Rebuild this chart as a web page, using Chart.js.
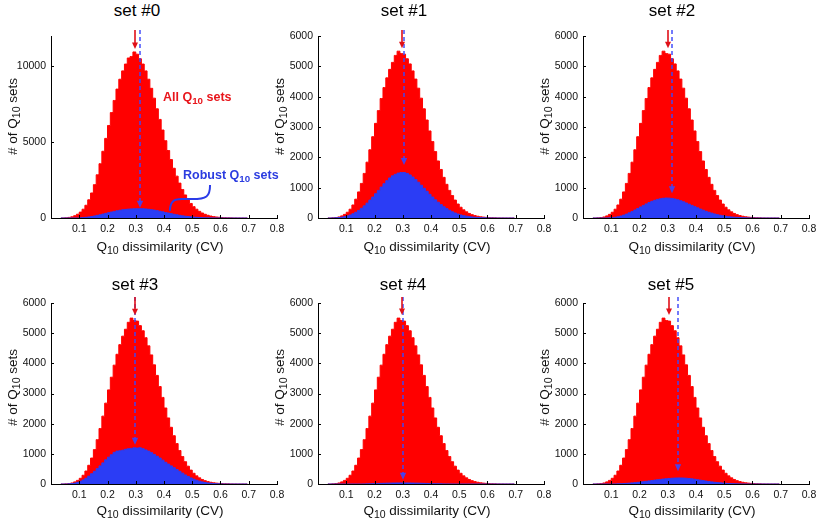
<!DOCTYPE html>
<html>
<head>
<meta charset="utf-8">
<script src="https://cdn.jsdelivr.net/npm/chart.js@4.4.1/dist/chart.umd.min.js"></script>
<style>
  html, body { margin:0; padding:0; background:#fff; }
  body { width:817px; height:525px; position:relative; overflow:hidden; font-family:"Liberation Sans", Arial, sans-serif; }
  .txt { position:absolute; white-space:nowrap; color:#111; }
  .sb { font-size:0.78em; position:relative; top:0.32em; line-height:0; }
</style>
</head>
<body>
<script>
// ---------------- DATA ----------------
const binCenters = [
  0.035,0.045,0.055,0.065,0.075,0.085,0.095,0.105,0.115,0.125,
  0.135,0.145,0.155,0.165,0.175,0.185,0.195,0.205,0.215,0.225,
  0.235,0.245,0.255,0.265,0.275,0.285,0.295,0.305,0.315,0.325,
  0.335,0.345,0.355,0.365,0.375,0.385,0.395,0.405,0.415,0.425,
  0.435,0.445,0.455,0.465,0.475,0.485,0.495,0.505,0.515,0.525,
  0.535,0.545,0.555,0.565,0.575,0.585,0.595,0.605,0.615,0.625,
  0.635,0.645,0.655,0.665,0.675,0.685,0.695
];

// All Q10 sets, set #0
const allSet0 = [
  0,5,15,40,80,150,250,390,580,840,
  1200,1650,2200,2850,3580,4400,5250,6100,6950,7750,
  8500,9150,9700,10150,10550,10650,10950,10800,10500,10150,
  9700,9150,8550,7900,7200,6500,5800,5100,4450,3850,
  3280,2760,2300,1880,1520,1220,960,750,580,440,
  330,245,180,130,95,68,48,33,22,14,
  9,5,3,1,0,0,0
];

// All Q10 sets, sets #1 - #5
const allSets1to5 = [
  0,0,5,15,35,70,120,190,290,430,
  620,860,1140,1470,1840,2250,2680,3120,3540,3940,
  4300,4620,4900,5130,5360,5500,5420,5400,5250,5080,
  4850,4580,4280,3950,3600,3230,2870,2520,2190,1880,
  1600,1340,1110,910,740,590,460,355,270,205,
  150,110,80,58,42,30,21,14,9,6,
  4,2,1,0,0,0,0
];

// Robust Q10 sets
const robust0 = [
  0,0,0,0,0,0,0,10,25,45,
  70,100,135,175,215,260,305,350,395,435,
  475,510,540,565,585,600,610,615,615,610,
  595,575,550,520,485,445,405,365,325,285,
  245,210,175,145,118,95,75,58,44,33,
  24,17,12,8,5,3,2,1,0,0,
  0,0,0,0,0,0,0
];
const robust1 = [
  0,0,3,8,15,28,45,70,100,140,
  190,250,320,400,490,590,690,800,910,1020,
  1130,1230,1320,1390,1440,1480,1500,1500,1470,1420,
  1350,1270,1180,1080,980,880,780,690,600,520,
  440,370,310,255,205,165,130,100,78,60,
  45,33,24,17,12,8,5,3,2,1,
  0,0,0,0,0,0,0
];
const robust2 = [
  0,0,0,0,0,0,5,12,25,42,
  65,95,130,170,215,265,315,365,415,465,
  510,550,585,615,635,650,658,655,645,625,
  600,570,535,495,455,415,375,335,295,258,
  222,190,160,133,110,90,72,57,45,35,
  26,19,14,10,7,4,2,1,0,0,
  0,0,0,0,0,0,0
];
const robust3 = [
  0,0,0,5,15,30,55,90,135,190,
  260,340,420,510,600,700,800,890,970,1050,
  1090,1100,1120,1150,1170,1180,1200,1190,1200,1170,
  1130,1090,1040,980,920,860,790,720,660,600,
  540,480,420,360,300,250,200,160,125,95,
  70,50,35,24,16,10,6,3,1,0,
  0,0,0,0,0,0,0
];
const robust4 = [
  0,0,0,0,0,0,0,0,0,0,
  0,0,0,3,5,8,11,14,18,21,
  24,27,29,31,33,34,35,35,34,33,
  31,29,27,24,21,18,15,12,10,8,
  6,4,3,2,1,0,0,0,0,0,
  0,0,0,0,0,0,0,0,0,0,
  0,0,0,0,0,0,0
];
const robust5 = [
  0,0,0,0,0,0,0,0,3,6,
  10,15,21,28,36,45,55,66,78,90,
  103,116,129,141,153,164,174,183,190,196,
  200,200,197,191,182,170,157,142,127,112,
  97,83,70,58,47,38,30,23,17,13,
  9,6,4,2,1,0,0,0,0,0,
  0,0,0,0,0,0,0
];

const panelTitles = ['set #0','set #1','set #2','set #3','set #4','set #5'];
const xTickValues = [0.1,0.2,0.3,0.4,0.5,0.6,0.7,0.8];
const yTicksSet0 = [0,5000,10000];
const yTicksOther = [0,1000,2000,3000,4000,5000,6000];
const yMaxSet0 = 12000;
const yMaxOther = 6000;

// arrow markers (x in CV units, tip in counts)
const redArrowX    = [0.298, 0.297, 0.300, 0.298, 0.297, 0.304];
const redArrowTip  = [11150, 5600, 5600, 5590, 5600, 5600];
const blueArrowX   = [0.316, 0.305, 0.314, 0.296, 0.302, 0.338];
const blueArrowTip = [670, 1750, 820, 1300, 140, 420];

// ---------------- LAYOUT / STYLE ----------------
const RED = '#ff0000';
const BLUE = '#2b3df5';
const FONT = '"Liberation Sans", Arial, sans-serif';
Chart.defaults.font.family = FONT;

const colLeft = [51, 318, 583];
const rowTop = [36, 303];
const rowBottom = [218, 484];
const plotW = 226;
const titleDx = [86, 86, 89, 84, 85, 88];
const titleBaseline = [16.7, 290.7];
const xTitleBaseline = [251.5, 515.5];
const yTitleShift = [-11, -6];

const panels = [
  {all: allSet0,     robust: robust0, yTicks: yTicksSet0,  yMax: yMaxSet0},
  {all: allSets1to5, robust: robust1, yTicks: yTicksOther, yMax: yMaxOther},
  {all: allSets1to5, robust: robust2, yTicks: yTicksOther, yMax: yMaxOther},
  {all: allSets1to5, robust: robust3, yTicks: yTicksOther, yMax: yMaxOther},
  {all: allSets1to5, robust: robust4, yTicks: yTicksOther, yMax: yMaxOther},
  {all: allSets1to5, robust: robust5, yTicks: yTicksOther, yMax: yMaxOther}
];

function addText(html, css) {
  const d = document.createElement('div');
  d.className = 'txt';
  d.innerHTML = html;
  d.style.cssText += css;
  document.body.appendChild(d);
  return d;
}

function markPlugin(i, p) {
  return {
    id: 'marks' + i,
    afterDraw(chart) {
      const {ctx, chartArea: a, scales: {x, y}} = chart;
      ctx.save();
      // inward tick marks
      ctx.strokeStyle = '#000';
      ctx.lineWidth = 1;
      ctx.beginPath();
      xTickValues.forEach(v => {
        const px = Math.round(x.getPixelForValue(v)) + 0.5;
        ctx.moveTo(px, a.bottom); ctx.lineTo(px, a.bottom - 3);
      });
      p.yTicks.forEach(v => {
        const py = Math.round(y.getPixelForValue(v)) + 0.5;
        ctx.moveTo(a.left, py); ctx.lineTo(a.left + 3, py);
      });
      ctx.stroke();

      const startY = a.top - 6;
      // blue dashed arrow
      const bx = Math.round(x.getPixelForValue(blueArrowX[i]));
      const by = y.getPixelForValue(blueArrowTip[i]);
      ctx.strokeStyle = 'rgba(60,70,250,0.72)';
      ctx.lineWidth = 2;
      ctx.setLineDash([4, 3]);
      ctx.beginPath();
      ctx.moveTo(bx, startY); ctx.lineTo(bx, by - 5);
      ctx.stroke();
      ctx.setLineDash([]);
      ctx.fillStyle = 'rgba(60,70,250,0.9)';
      ctx.beginPath();
      ctx.moveTo(bx - 3.2, by - 7); ctx.lineTo(bx + 3.2, by - 7); ctx.lineTo(bx, by);
      ctx.closePath(); ctx.fill();

      // red solid arrow
      const rx = Math.round(x.getPixelForValue(redArrowX[i]));
      const ry = y.getPixelForValue(redArrowTip[i]);
      ctx.strokeStyle = '#e01018';
      ctx.fillStyle = '#e01018';
      ctx.lineWidth = 1.6;
      ctx.beginPath();
      ctx.moveTo(rx, startY); ctx.lineTo(rx, ry - 4);
      ctx.stroke();
      ctx.beginPath();
      ctx.moveTo(rx - 3, ry - 6.5); ctx.lineTo(rx + 3, ry - 6.5); ctx.lineTo(rx, ry);
      ctx.closePath(); ctx.fill();

      // "Robust" pointer curve (set #0 only)
      if (i === 0) {
        const P = (vx, vy) => [x.getPixelForValue(vx), y.getPixelForValue(vy)];
        ctx.strokeStyle = '#2b3ce8';
        ctx.lineWidth = 2;
        ctx.beginPath();
        let q = P(0.421, 480); ctx.moveTo(q[0], q[1]);
        let c1 = P(0.422, 1050), c2 = P(0.432, 1245), e = P(0.463, 1245);
        ctx.bezierCurveTo(c1[0], c1[1], c2[0], c2[1], e[0], e[1]);
        e = P(0.5, 1245); ctx.lineTo(e[0], e[1]);
        c1 = P(0.55, 1245); c2 = P(0.563, 1400); e = P(0.563, 2180);
        ctx.bezierCurveTo(c1[0], c1[1], c2[0], c2[1], e[0], e[1]);
        ctx.stroke();
      }
      ctx.restore();
    }
  };
}

panels.forEach((p, i) => {
  const col = i % 3, row = Math.floor(i / 3);
  const L = colLeft[col], T = rowTop[row], B = rowBottom[row];
  const padL = 50, padT = 14, padR = 14, padB = 26;
  const cv = document.createElement('canvas');
  cv.width = padL + plotW + padR;
  cv.height = padT + (B - T) + padB;
  cv.style.cssText = `position:absolute;left:${L - padL}px;top:${T - padT}px;width:${cv.width}px;height:${cv.height}px;`;
  document.body.appendChild(cv);

  const mk = (arr) => binCenters.map((c, k) => ({x: c, y: arr[k]}));

  new Chart(cv, {
    type: 'line',
    data: {
      datasets: [
        {label: 'Robust Q10 sets', data: mk(p.robust), backgroundColor: BLUE, borderColor: BLUE,
         borderWidth: 1, fill: 'origin', stepped: 'middle', pointRadius: 0},
        {label: 'All Q10 sets', data: mk(p.all), backgroundColor: RED, borderColor: RED,
         borderWidth: 1, fill: 'origin', stepped: 'middle', pointRadius: 0}
      ]
    },
    options: {
      responsive: false,
      animation: false,
      events: [],
      layout: {padding: {left: 0, top: padT, right: padR, bottom: 0}},
      plugins: {legend: {display: false}, tooltip: {enabled: false}, title: {display: false}},
      scales: {
        x: {
          type: 'linear', min: 0, max: 0.8,
          afterBuildTicks: s => { s.ticks = xTickValues.map(v => ({value: v})); },
          afterFit: s => { s.height = padB; },
          grid: {display: false, drawTicks: false},
          border: {display: true, color: '#000', width: 1},
          ticks: {padding: 5, autoSkip: false, maxRotation: 0, color: '#111',
                  font: {family: FONT, size: 10.5}, callback: v => Number(v).toFixed(1)}
        },
        y: {
          type: 'linear', min: 0, max: p.yMax,
          afterBuildTicks: s => { s.ticks = p.yTicks.map(v => ({value: v})); },
          afterFit: s => { s.width = padL; },
          grid: {display: false, drawTicks: false},
          border: {display: true, color: '#000', width: 1},
          ticks: {padding: 5, autoSkip: false, color: '#111',
                  font: {family: FONT, size: 10.5}, callback: v => String(v)}
        }
      }
    },
    plugins: [markPlugin(i, p)]
  });

  // panel title
  addText(panelTitles[i],
    `left:${L + titleDx[i]}px;top:${titleBaseline[row] - 14.4}px;font-size:17px;line-height:17px;transform:translateX(-50%);color:#000;`);
  // x axis title
  addText('Q<span class="sb">10</span> dissimilarity (CV)',
    `left:${L + plotW / 2 - 4}px;top:${xTitleBaseline[row] - 11.4}px;font-size:13.5px;line-height:13.5px;transform:translateX(-50%);color:#111;`);
  // y axis title (rotated, positioned on whole pixels)
  const yt = addText('# of Q<span class="sb">10</span> sets',
    `left:0px;top:0px;font-size:13.5px;line-height:14px;transform-origin:0 0;transform:rotate(-90deg);color:#111;`);
  const w = yt.offsetWidth, h = yt.offsetHeight;
  const cx = L - 38, cy = (T + B) / 2 + yTitleShift[row];
  yt.style.left = Math.round(cx - h / 2) + 'px';
  yt.style.top = Math.round(cy + w / 2) + 'px';
});

// annotations on set #0
addText('All Q<span class="sb">10</span> sets',
  'left:163px;top:91px;font-size:12.5px;line-height:12.5px;font-weight:bold;color:#e8151b;');
addText('Robust Q<span class="sb">10</span> sets',
  'left:183px;top:168.5px;font-size:12.5px;line-height:12.5px;font-weight:bold;color:#2b3ce0;');
</script>
</body>
</html>
